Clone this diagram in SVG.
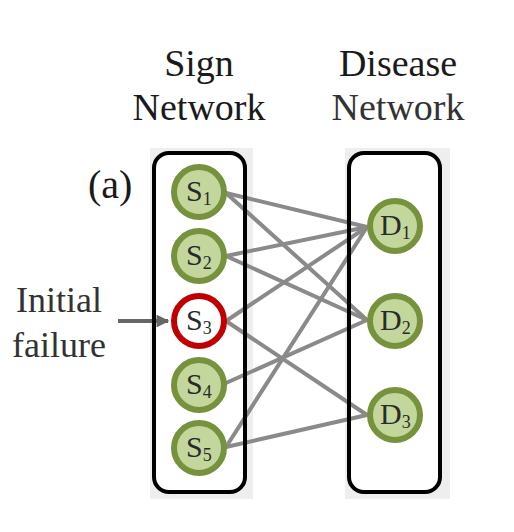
<svg xmlns="http://www.w3.org/2000/svg" width="514" height="532" viewBox="0 0 514 532">
<defs>
<style>
.t{font-family:"Liberation Serif","Times New Roman",serif;fill:#1a1a1a}
.title{font-size:38px;text-anchor:middle}
.lbl{font-size:30px;fill:#2a2a2a}
.sub{font-size:18px}
.bg{fill:#eeeeee}
.box{fill:none;stroke:#000;stroke-width:4}
.inner{fill:#fff}
.n{fill:#c3d69b;stroke:#76923c;stroke-width:6}
.fail{fill:#fff;stroke:#c00000;stroke-width:6}
.e{stroke:#8a8a8a;stroke-width:4;stroke-linecap:round}
</style>
<marker id="ah" viewBox="0 0 10 10" refX="9" refY="5" markerWidth="3.2" markerHeight="3.2" orient="auto" markerUnits="strokeWidth">
<path d="M0,0 L10,5 L0,10 z" fill="#666"/>
</marker>
</defs>

<g id="titles">
<text class="t title" x="199" y="76">Sign</text>
<text class="t title" x="199" y="120">Network</text>
<text class="t title" x="398" y="76">Disease</text>
<text class="t title" x="398" y="120" style="fill:#333">Network</text>
<text class="t" x="88" y="198" style="font-size:40px">(a)</text>
<text class="t" x="59" y="312" style="font-size:36px;text-anchor:middle;fill:#333">Initial</text>
<text class="t" x="59" y="357" style="font-size:36px;text-anchor:middle;fill:#333">failure</text>
</g>

<g id="sign-network-bg">
<rect class="bg" x="150" y="148" width="103" height="351"/>
<rect class="inner" x="154" y="153" width="91" height="339" rx="15"/>
</g>
<g id="disease-network-bg">
<rect class="bg" x="345" y="148" width="105" height="351"/>
<rect class="inner" x="349" y="153" width="91" height="339" rx="15"/>
</g>

<g id="connectors">
<line class="e" x1="226" y1="193" x2="367" y2="227"/>
<line class="e" x1="226" y1="193" x2="367" y2="320"/>
<line class="e" x1="226" y1="256" x2="367" y2="227"/>
<line class="e" x1="226" y1="256" x2="367" y2="320"/>
<line class="e" x1="226" y1="321" x2="367" y2="227"/>
<line class="e" x1="226" y1="321" x2="367" y2="415"/>
<line class="e" x1="226" y1="383" x2="367" y2="320"/>
<line class="e" x1="226" y1="447" x2="367" y2="227"/>
<line class="e" x1="226" y1="447" x2="367" y2="415"/>
<line id="initial-arrow" x1="118" y1="321" x2="168" y2="321" stroke="#666" stroke-width="4" marker-end="url(#ah)"/>
</g>

<g id="sign-network">
<rect class="box" x="154" y="153" width="91" height="339" rx="15"/>
</g>
<g id="disease-network">
<rect class="box" x="349" y="153" width="91" height="339" rx="15"/>
</g>

<g id="S1"><circle class="n" cx="199" cy="192" r="25"/><text class="t lbl" x="186" y="201">S<tspan class="sub" dy="4">1</tspan></text></g>
<g id="S2"><circle class="n" cx="199" cy="256" r="25"/><text class="t lbl" x="186" y="265">S<tspan class="sub" dy="4">2</tspan></text></g>
<g id="S3"><circle class="fail" cx="199" cy="321" r="25"/><text class="t lbl" x="186" y="330">S<tspan class="sub" dy="4">3</tspan></text></g>
<g id="S4"><circle class="n" cx="199" cy="385" r="25"/><text class="t lbl" x="186" y="394">S<tspan class="sub" dy="4">4</tspan></text></g>
<g id="S5"><circle class="n" cx="199" cy="448" r="25"/><text class="t lbl" x="186" y="457">S<tspan class="sub" dy="4">5</tspan></text></g>

<g id="D1"><circle class="n" cx="395" cy="226" r="25"/><text class="t lbl" x="380" y="235">D<tspan class="sub" dy="4">1</tspan></text></g>
<g id="D2"><circle class="n" cx="395" cy="321" r="25"/><text class="t lbl" x="380" y="330">D<tspan class="sub" dy="4">2</tspan></text></g>
<g id="D3"><circle class="n" cx="395" cy="415" r="25"/><text class="t lbl" x="380" y="424">D<tspan class="sub" dy="4">3</tspan></text></g>
</svg>
